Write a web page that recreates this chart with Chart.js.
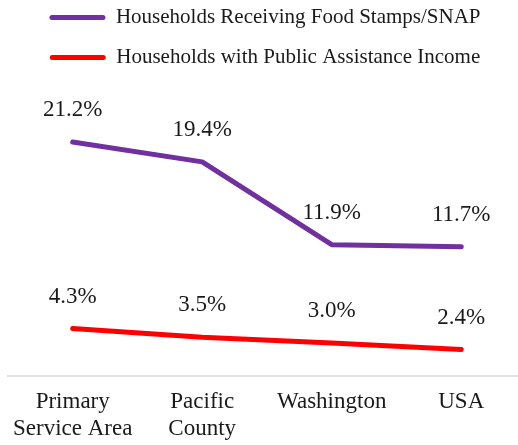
<!DOCTYPE html>
<html>
<head>
<meta charset="utf-8">
<script src="https://cdn.jsdelivr.net/npm/chart.js@4/dist/chart.umd.min.js"></script>
<style>
  html, body { margin: 0; padding: 0; background: #ffffff; overflow: hidden; width: 518px; height: 445px; }
  canvas { display: block; }
</style>
</head>
<body>
<canvas id="c" width="526" height="455" style="width:526px;height:455px"></canvas>
<script>
const categories = [["Primary", "Service Area"], ["Pacific", "County"], "Washington", "USA"];
const seriesNames = ["Households Receiving Food Stamps/SNAP", "Households with Public Assistance Income"];
const snapValues = [21.2, 19.4, 11.9, 11.7];
const publicAssistanceValues = [4.3, 3.5, 3.0, 2.4];
const yMin = 0;
const yMax = 27;

const FONT = "'Liberation Serif', 'Times New Roman', serif";
const TEXT = "#1a1a1a";

const dataLabels = {
  id: "dataLabels",
  afterDatasetsDraw(chart) {
    const ctx = chart.ctx;
    ctx.save();
    ctx.font = "23px " + FONT;
    ctx.fillStyle = TEXT;
    ctx.textAlign = "center";
    ctx.textBaseline = "middle";
    chart.data.datasets.forEach((ds, i) => {
      const meta = chart.getDatasetMeta(i);
      meta.data.forEach((pt, j) => {
        ctx.fillText(ds.data[j].toFixed(1) + "%", pt.x, pt.y - 32);
      });
    });
    ctx.restore();
  }
};

new Chart(document.getElementById("c"), {
  type: "line",
  data: {
    labels: categories,
    datasets: [
      {
        label: seriesNames[0],
        data: snapValues,
        borderColor: "#7030A0",
        backgroundColor: "#7030A0",
        borderWidth: 5,
        borderCapStyle: "round",
        borderJoinStyle: "round",
        pointRadius: 0,
        tension: 0
      },
      {
        label: seriesNames[1],
        data: publicAssistanceValues,
        borderColor: "#FF0000",
        backgroundColor: "#FF0000",
        borderWidth: 5,
        borderCapStyle: "round",
        borderJoinStyle: "round",
        pointRadius: 0,
        tension: 0
      }
    ]
  },
  options: {
    responsive: false,
    maintainAspectRatio: false,
    devicePixelRatio: 1,
    animation: false,
    layout: { padding: { left: 4, right: 0, top: -12, bottom: 0 } },
    plugins: {
      tooltip: { enabled: false },
      legend: {
        position: "top",
        labels: {
          font: { family: FONT, size: 21 },
          color: TEXT,
          boxWidth: 56,
          boxHeight: 5,
          padding: 19,
          useBorderRadius: true,
          borderRadius: 2.5,
          generateLabels(chart) {
            return chart.data.datasets.map((ds, i) => ({
              text: ds.label,
              fillStyle: ds.borderColor,
              strokeStyle: ds.borderColor,
              lineWidth: 0,
              borderRadius: 2.5,
              hidden: false,
              datasetIndex: i,
              fontColor: TEXT
            }));
          }
        }
      }
    },
    scales: {
      x: {
        offset: true,
        grid: { display: false, drawTicks: false },
        border: { display: true, color: "#e3e3e3", width: 2 },
        ticks: {
          font: { family: FONT, size: 23, lineHeight: 1.174 },
          color: TEXT,
          padding: 12.5,
          maxRotation: 0,
          autoSkip: false
        }
      },
      y: {
        display: false,
        min: yMin,
        max: yMax
      }
    }
  },
  plugins: [dataLabels]
});
</script>
</body>
</html>
